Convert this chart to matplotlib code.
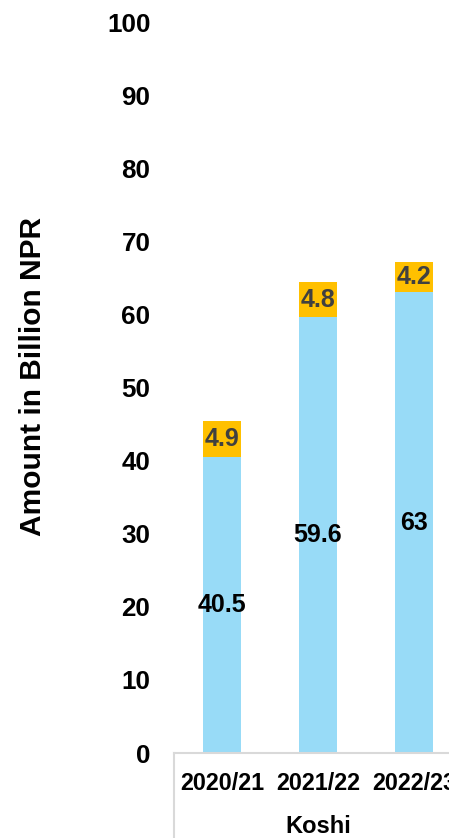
import matplotlib.pyplot as plt
import matplotlib.lines as mlines

plt.rcParams['font.family'] = ['Liberation Sans', 'DejaVu Sans']
plt.rcParams['font.weight'] = 'bold'

# data
years = ["2020/21", "2021/22", "2022/23"]
base = [40.5, 59.6, 63]
extra = [4.9, 4.8, 4.2]
region = "Koshi"

blue = "#98DBF7"
orange = "#FFC000"
grid_gray = "#D9D9D9"

fig = plt.figure(figsize=(4.49, 8.38), dpi=100)
# axes runs past the right edge of the figure, like the cropped original
ax = fig.add_axes([174 / 449, 85 / 838, 288 / 449, 731 / 838])

x = range(len(years))
ax.bar(x, base, width=0.4, color=blue, zorder=2)
ax.bar(x, extra, width=0.4, bottom=base, color=orange, zorder=2)

for i in x:
    ax.text(i, base[i] / 2, f"{base[i]:g}", ha='center', va='center',
            fontsize=18, fontweight='bold', color='black', zorder=3)
    ax.text(i, base[i] + extra[i] / 2, f"{extra[i]:g}", ha='center', va='center',
            fontsize=18, fontweight='bold', color='#404040', zorder=3)

ax.set_xlim(-0.5, 2.5)
ax.set_ylim(0, 100)
ax.set_yticks(range(0, 101, 10))
ax.set_xticks(list(x))
ax.set_xticklabels(years)
ax.tick_params(axis='y', length=0, pad=17, labelsize=18.7)
ax.tick_params(axis='x', length=0, pad=14, labelsize=16.8)

for s in ['top', 'right', 'left']:
    ax.spines[s].set_visible(False)
ax.spines['bottom'].set_color(grid_gray)
ax.spines['bottom'].set_linewidth(1.5)

# group separator lines below the axis
for xa in [0, 1]:
    ax.add_line(mlines.Line2D([xa, xa], [0, -0.13], transform=ax.transAxes,
                              color=grid_gray, linewidth=1.5, clip_on=False))

fig.text(318.5 / 449, (838 - 826) / 838, region, ha='center', va='center',
         fontsize=17, fontweight='bold')

ax.set_ylabel("Amount in Billion NPR", fontsize=21.5, fontweight='bold')
ax.yaxis.set_label_coords(-(174 - 47) / 288, (753 - 376) / 731)

plt.savefig("out.png", dpi=100)
plt.close()
